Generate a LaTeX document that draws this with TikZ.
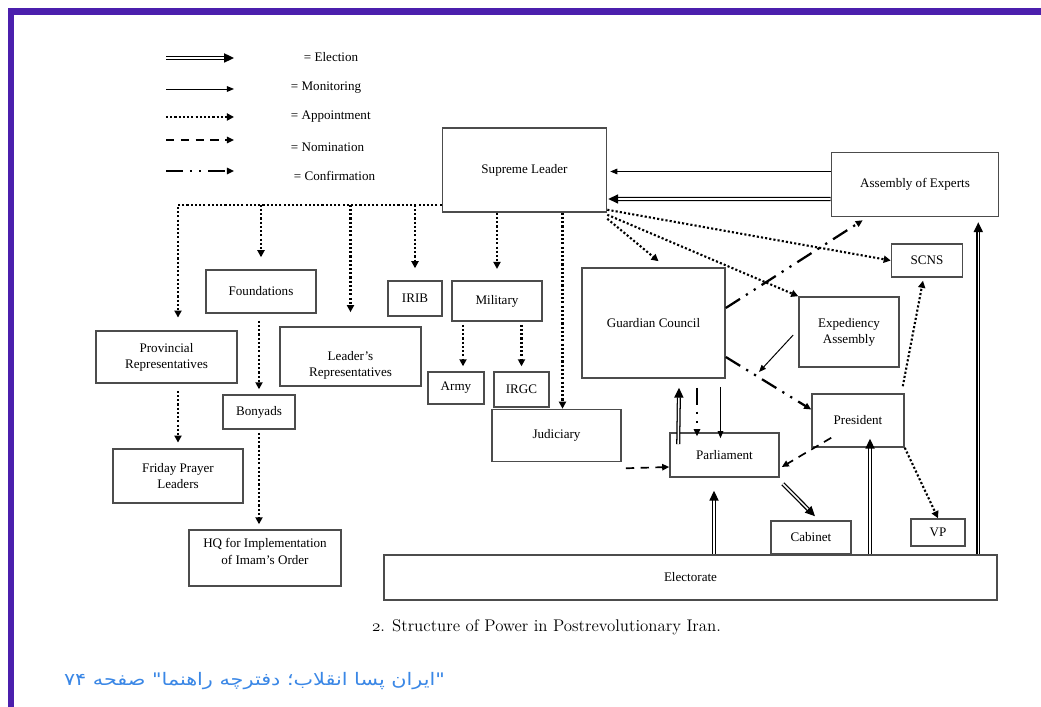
\documentclass[tikz,border=0pt]{standalone}
\usepackage{fontspec}
\usepackage{xcolor}
\usepackage{tikz}
\usetikzlibrary{arrows.meta}
\usetikzlibrary{calc}
\newfontfamily\tnr{Liberation Serif}
\newfontfamily\fafont[Script=Arabic, FakeStretch=1.2]{DejaVu Sans}
\TeXXeTstate=1
\definecolor{framepurple}{RGB}{75,31,173}
\definecolor{srcblue}{RGB}{58,135,230}

\begin{document}
\begin{tikzpicture}[
  x=0.025cm, y=-0.025cm,
  box/.style={
      draw=black!70,
      line width=1.1pt,
      align=center,
      inner sep=1pt,
      font=\tnr\fontsize{9.3}{11.5}\selectfont
  },
  txt/.style={align=center, font=\tnr\fontsize{9.3}{11.5}\selectfont},
  mon/.style={-{Triangle[length=5pt,width=4pt]}, line width=0.7pt},
  elect/.style={-{Triangle[length=7pt,width=6.5pt]}, double, double distance=1.1pt, line width=0.9pt},
  appt/.style={-{Triangle[length=5pt,width=5pt]}, line width=1.5pt, dash pattern=on 1.5pt off 1.5pt},
  nom/.style={-{Triangle[length=5pt,width=4.5pt]}, line width=1.2pt, dash pattern=on 6pt off 4.5pt},
  conf/.style={-{Triangle[length=5pt,width=4.5pt]}, line width=1.6pt,
      dash pattern=on 12pt off 5pt on 1.6pt off 5pt on 1.6pt off 5pt}
]

\useasboundingbox (0,0) rectangle (1041,707);
\fill[white] (0,0) rectangle (1041,707);
\fill[framepurple] (7.5,8) rectangle (1041,15);
\fill[framepurple] (7.5,8) rectangle (14,707);

% legend
\coordinate (la1) at (166,58);  \coordinate (lb1) at (234,58);
\coordinate (la2) at (166,89);  \coordinate (lb2) at (234,89);
\coordinate (la3) at (166,117); \coordinate (lb3) at (234,117);
\coordinate (la4) at (166,140); \coordinate (lb4) at (234,140);
\coordinate (la5) at (166,171); \coordinate (lb5) at (234,171);
\draw[elect] (la1) -- (lb1);
\draw[mon]   (la2) -- (lb2);
\draw[appt]  (la3) -- (lb3);
\draw[nom]   (la4) -- (lb4);
\draw[conf]  (la5) -- (lb5);
\node[txt, anchor=west] (lt1) at (299,57)  {= Election};
\node[txt, anchor=west] (lt2) at (286,88)  {= Monitoring};
\node[txt, anchor=west] (lt3) at (286,117) {= Appointment};
\node[txt, anchor=west] (lt4) at (286,147) {= Nomination};
\node[txt, anchor=west] (lt5) at (289,176) {= Confirmation};

% boxes
\node[box, minimum width=4.1cm, minimum height=2.1cm]      (sl)    at (524.5,170) {Supreme Leader};
\node[box, minimum width=4.175cm, minimum height=1.6cm]    (aoe)   at (915,184.5) {Assembly of Experts};
\node[box, minimum width=1.775cm, minimum height=0.825cm]  (scns)  at (927,260.5) {SCNS};
\node[box, minimum width=2.5cm, minimum height=1.75cm]     (ea)    at (849,332)   {Expediency\\Assembly};
\node[box, minimum width=3.575cm, minimum height=2.75cm]   (gc)    at (653.5,323) {Guardian Council};
\node[box, minimum width=2.3cm, minimum height=1.325cm]    (pres)  at (858,420.5) {President};
\node[box, minimum width=2.725cm, minimum height=1.1cm]    (parl)  at (724.5,455) {Parliament};
\node[box, minimum width=2cm, minimum height=0.825cm]      (cab)   at (811,537.5) {Cabinet};
\node[box, minimum width=1.35cm, minimum height=0.675cm]   (vp)    at (938,532.5) {VP};
\node[box, minimum width=15.325cm, minimum height=1.125cm] (elec)  at (690.5,577.5) {Electorate};
\node[box, minimum width=3.225cm, minimum height=1.3cm]    (jud)   at (556.5,435.5) {Judiciary};
\node[box, minimum width=2.25cm, minimum height=1cm]       (mil)   at (497,301)   {Military};
\node[box, minimum width=1.35cm, minimum height=0.875cm]   (irib)  at (415,298.5) {IRIB};
\node[box, minimum width=1.4cm, minimum height=0.8cm]      (army)  at (456,388)   {Army};
\node[box, minimum width=1.375cm, minimum height=0.875cm]  (irgc)  at (521.5,389.5) {IRGC};
\node[box, minimum width=2.75cm, minimum height=1.075cm]   (found) at (261,291.5) {Foundations};
\node[box, minimum width=3.525cm, minimum height=1.475cm,
      label={[txt, yshift=-6.4pt]center:{Leader’s\\Representatives}}] (lr) at (350.5,356.5) {};
\node[box, minimum width=3.525cm, minimum height=1.3cm]    (prov)  at (166.5,357) {Provincial\\Representatives};
\node[box, minimum width=1.8cm, minimum height=0.85cm]     (bon)   at (259,412)   {Bonyads};
\node[box, minimum width=3.25cm, minimum height=1.35cm]    (fri)   at (178,476)   {Friday Prayer\\Leaders};
\node[box, minimum width=3.8cm, minimum height=1.4cm,
      label={[txt, yshift=4.6pt]center:{HQ for Implementation\\of Imam’s Order}}] (hq) at (265,558) {};

% appointments from the leader
\coordinate (bus) at ($(sl.south west)+(0,-8)$);
\draw[appt, shorten >=9pt] (bus) -| (prov.north -| fri.north);
\draw[appt, shorten >=8.5pt] (bus -| found.north) -- (found.north);
\draw[appt, shorten >=10pt] (bus -| lr.north) -- (lr.north);
\draw[appt, shorten >=8.5pt] (bus -| irib.north) -- (irib.north);
\draw[appt, shorten >=8pt] (sl.south -| mil.north) -- (mil.north);
\draw[appt] ($(sl.south -| jud.north)+(6,0)$) -- ($(jud.north)+(6,0)$);
\draw[appt] ($(sl.south east)+(0,6)$) -- ($(gc.north)+(5,-6)$);
\draw[appt] ($(sl.south east)+(0,2)$) -- (ea.north west);
\draw[appt] ($(sl.south east)+(0,-3)$) -- (scns.west);

\draw[appt, shorten >=3.5pt] ($(mil.south -| army.north)+(7,3)$) -- ($(army.north)+(7,0)$);
\draw[appt, shorten >=3.5pt] ($(mil.south -| irgc.north)+(0,3)$) -- (irgc.north);
\draw[appt, shorten >=3.5pt] ($(found.south -| bon.north)+(0,7)$) -- (bon.north);
\draw[appt, shorten >=4pt] ($(prov.south -| fri.north)+(0,7)$) -- (fri.north);
\draw[appt, shorten >=3.5pt] ($(bon.south)+(0,3)$) -- (hq.north -| bon.south);
\draw[appt] ($(pres.north east)+(-2,-7)$) -- ($(scns.south)+(-4,3)$);
\draw[appt] (pres.south east) -- (vp.north);

% assembly of experts
\draw[mon] ($(aoe.west)+(0,-13)$) -- ($(sl.east)+(3,1.5)$);
\draw[elect] ($(aoe.west)+(0,14.5)$) -- ($(sl.east)+(1,29)$);

% confirmations
\draw[conf] ($(gc.east)+(0,-15)$) -- ($(aoe.south west)+(32,3)$);
\draw[conf] ($(gc.east)+(0,34)$) -- ($(pres.west)+(0,-11)$);
\draw[conf] ($(gc.south)+(43.5,9)$) -- ($(parl.north -| gc.south)+(43.5,4)$);

% guardian council and parliament
\coordinate (eamon) at (759,372);
\draw[mon] ($(ea.west)+(-5,3)$) -- (eamon);
\draw[mon] ($(gc.south)+(67,8)$) -- ($(parl.north -| gc.south)+(67,6)$);
\draw[elect] ($(parl.north west)+(9,12)$) -- ($(gc.south)+(25.5,9)$);

\draw[nom] ($(jud.south east)+(4,6)$) -- ($(parl.west)+(0,12)$);
\draw[nom] ($(pres.south west)+(20,-10)$) -- ($(parl.east)+(2,12)$);

% elections
\draw[elect] ($(parl.south east)+(3,6)$) -- ($(cab.north)+(4,-4)$);
\draw[elect] ($(elec.north -| parl.south)+(-10.5,0)$) -- ($(parl.south)+(-10.5,13)$);
\draw[elect] ($(elec.north -| pres.south)+(12,0)$) -- ($(pres.south)+(12,-9)$);
\draw[elect] ($(elec.north -| aoe.south east)+(-21,0)$) -- ($(aoe.south east)+(-21,5)$);

\node[font=\fontsize{12}{14}\selectfont] (cap) at (546.5,627)
  {$\mathnormal{2}$. Structure of Power in Postrevolutionary Iran.};
\node[font=\fafont\fontsize{12.3}{14}\selectfont, text=srcblue] (src) at (254.5,681)
  {\beginR"ایران پسا انقلاب؛ دفترچه راهنما" صفحه ۷۴\endR};

\end{tikzpicture}
\end{document}
